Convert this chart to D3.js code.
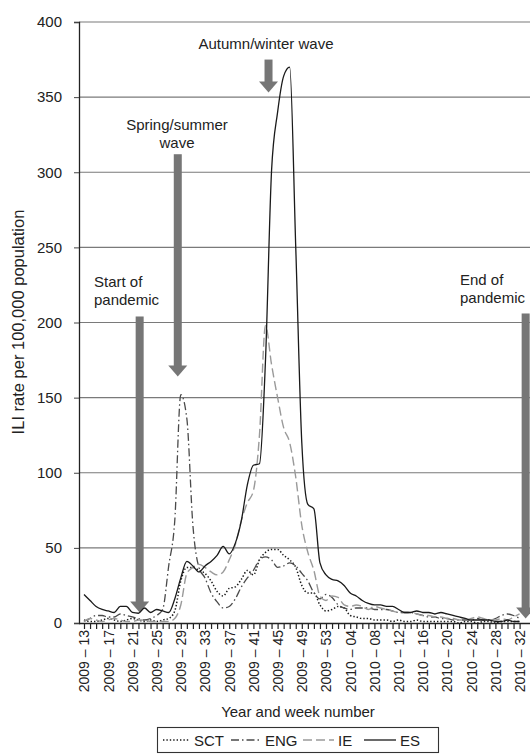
<!DOCTYPE html>
<html>
<head>
<meta charset="utf-8">
<script src="https://cdn.jsdelivr.net/npm/d3@7"></script>
<style>
  body { margin: 0; background: #fff; }
  svg { display: block; font-family: "Liberation Sans", Arial, sans-serif; }
</style>
</head>
<body>
<svg id="chart" width="530" height="756"></svg>
<script>
// weeks 2009-13 .. 2010-32
var weeks = [];
for (var w = 13; w <= 53; w++) weeks.push("2009 \u2013 " + (w < 10 ? "0" + w : w));
for (var w = 1; w <= 32; w++) weeks.push("2010 \u2013 " + (w < 10 ? "0" + w : w));

var yTicks = [0, 50, 100, 150, 200, 250, 300, 350, 400];

var sct = [2, 1, 1, 2, 3, 2, 1, 2, 3, 2, 1, 2, 1, 2, 3, 8, 28, 37, 37, 35,
           33, 28, 21, 18, 23, 24, 29, 35, 32, 42, 47, 49, 49, 45, 42, 37, 25, 20, 20, 12,
           8, 9, 11, 10, 5, 4, 3, 3, 2, 2, 2, 1, 2, 1, 1, 2, 1, 1, 1, 1,
           1, 1, 0, 1, 1, 0, 1, 1, 0, 1, 1, 1, 1];
var eng = [1, 3, 5, 5, 4, 4, 6, 5, 4, 3, 2, 3, 5, 9, 38, 68, 152, 136, 65, 37,
           30, 20, 14, 10, 11, 16, 24, 30, 35, 42, 44, 42, 37, 38, 40, 38, 33, 28, 20, 16,
           19, 17, 12, 10, 9, 10, 10, 10, 9, 9, 9, 8, 7, 7, 7, 6, 5, 4, 4, 3,
           3, 2, 2, 2, 2, 3, 2, 2, 3, 5, 6, 5, 3];
var ie = [1, 3, 2, 1, 2, 3, 2, 1, 1, 2, 2, 1, 1, 1, 1, 3, 12, 33, 37, 39,
          37, 34, 32, 34, 42, 52, 68, 80, 88, 125, 198, 172, 150, 130, 120, 97, 65, 47, 35, 18,
          15, 18, 17, 12, 11, 12, 11, 9, 11, 10, 9, 8, 7, 7, 7, 6, 5, 5, 4, 4,
          3, 3, 2, 2, 3, 4, 3, 2, 2, 3, 2, 4, 6];
var es = [19, 15, 11, 9, 8, 7, 11, 11, 7, 6.5, 10, 7, 9, 8, 7, 16, 30, 41, 38, 34,
          38, 41, 45, 51, 46, 53, 68, 92, 105, 106, 175, 301, 340, 364, 370, 250, 120, 79, 76, 40,
          32, 29, 28, 25, 20, 18, 15, 13, 12, 12, 11, 11, 9, 7, 7, 8, 7, 7, 6, 7,
          6, 5, 4, 3, 2, 2, 2, 2, 1, 1, 2, 1, 1];

var seriesNames = ["SCT", "ENG", "IE", "ES"];
var seriesData = [sct, eng, ie, es];
var seriesCol = ["#1a1a1a", "#4a4a4a", "#9a9a9a", "#1a1a1a"];
var seriesDash = ["1.4,2", "8,3,1.5,3", "9,4", null];
var seriesWidth = [1.5, 1.3, 1.4, 1.3];

// annotation arrows: week index, top and tip in data units
var notes = [
  { lines: ["Start of", "pandemic"], week: 9.2, top: 204, tip: 7, tx: 94, ty: 282, anchor: "start" },
  { lines: ["Spring/summer", "wave"], week: 15.5, top: 312, tip: 164, tx: 177, ty: 125, anchor: "middle" },
  { lines: ["Autumn/winter wave"], week: 30.5, top: 375, tip: 353, tx: 266, ty: 44, anchor: "middle" },
  { lines: ["End of", "pandemic"], week: 73, top: 206, tip: 3, tx: 460, ty: 280, anchor: "start" }
];

function drawChart() {
    var svg = d3.select("#chart");
    var mLeft = 79, mTop = 22, mBottom = 623, mRight = 530;
    var fs = "15px";

    var x = d3.scaleLinear().domain([0, weeks.length - 1]).range([84, 519.6]);
    var y = d3.scaleLinear().domain([0, 400]).range([mBottom, mTop]);

    // gridlines
    svg.append("g")
        .selectAll("line")
        .data(yTicks.filter(d => d > 0))
        .enter().append("line")
        .attr("x1", mLeft).attr("x2", mRight)
        .attr("y1", d => y(d)).attr("y2", d => y(d))
        .style("stroke", "#7a7a7a")
        .style("stroke-width", 1.1);

    // y axis
    var yAxis = d3.axisLeft(y).tickValues(yTicks).tickSize(5).tickPadding(12);
    var gy = svg.append("g")
        .attr("transform", "translate(" + mLeft + ",0)")
        .call(yAxis);
    gy.select(".domain").style("stroke", "#222").style("stroke-width", 1.3);
    gy.selectAll(".tick line").style("stroke", "#444");
    gy.selectAll("text")
        .style("font-size", fs)
        .style("fill", "#222")
        .style("font-family", "Liberation Sans, Arial, sans-serif");

    // x axis: tick every week, label every 4 weeks
    var xAxis = d3.axisBottom(x)
        .tickValues(d3.range(weeks.length))
        .tickSize(6)
        .tickFormat(d => d % 4 == 0 ? weeks[d] : "");
    var gx = svg.append("g")
        .attr("transform", "translate(0," + mBottom + ")")
        .call(xAxis);
    gx.select(".domain").attr("d", "M" + mLeft + ",0.5H" + mRight).style("stroke", "#222").style("stroke-width", 1.6);
    gx.selectAll(".tick line").style("stroke", "#222").style("stroke-width", 1.2);
    gx.selectAll("text")
        .attr("transform", "rotate(-90)")
        .attr("x", -7)
        .attr("y", 0)
        .attr("dy", "0.35em")
        .style("text-anchor", "end")
        .style("font-size", "14px")
        .style("fill", "#222")
        .style("font-family", "Liberation Sans, Arial, sans-serif");

    // axis titles
    svg.append("text")
        .attr("x", 298).attr("y", 717)
        .attr("text-anchor", "middle")
        .style("font-size", fs).style("fill", "#222")
        .text("Year and week number");

    svg.append("text")
        .attr("transform", "rotate(-90)")
        .attr("x", -322).attr("y", 24)
        .attr("text-anchor", "middle")
        .style("font-size", "16.5px").style("fill", "#222")
        .text("ILI rate per 100,000 population");

    // arrows
    var arrowCol = "#767676";
    notes.forEach(function(n) {
        var ax = x(n.week), yTop = y(n.top), yTip = y(n.tip);
        var headLen = Math.min(11, (yTip - yTop) * 0.4);
        svg.append("rect")
            .attr("x", ax - 4).attr("y", yTop)
            .attr("width", 8).attr("height", yTip - yTop - headLen + 1)
            .style("fill", arrowCol);
        svg.append("path")
            .attr("d", "M" + (ax - 9.5) + "," + (yTip - headLen) + "L" + (ax + 9.5) + "," + (yTip - headLen) + "L" + ax + "," + yTip + "Z")
            .style("fill", arrowCol);
        var t = svg.append("text")
            .attr("x", n.tx).attr("y", n.ty + 5)
            .attr("text-anchor", n.anchor)
            .style("font-size", fs).style("fill", "#222");
        n.lines.forEach(function(s, i) {
            t.append("tspan").attr("x", n.tx).attr("dy", i == 0 ? 0 : 18).text(s);
        });
    });

    // series lines
    var line = d3.line()
        .x((d, i) => x(i))
        .y(d => y(d))
        .curve(d3.curveMonotoneX);

    seriesData.forEach(function(s, k) {
        svg.append("path")
            .datum(s)
            .attr("d", line)
            .style("fill", "none")
            .style("stroke", seriesCol[k])
            .style("stroke-width", seriesWidth[k])
            .style("stroke-dasharray", seriesDash[k]);
    });

    // legend
    var lg = svg.append("g");
    lg.append("rect")
        .attr("x", 157.5).attr("y", 727.5).attr("width", 281).attr("height", 25)
        .style("fill", "none").style("stroke", "#333").style("stroke-width", 1.1);
    var legX = [163, 231, 303, 364];
    var legLen = [27, 30, 31, 32];
    seriesNames.forEach(function(name, k) {
        lg.append("line")
            .attr("x1", legX[k]).attr("x2", legX[k] + legLen[k])
            .attr("y1", 740).attr("y2", 740)
            .style("stroke", seriesCol[k])
            .style("stroke-width", seriesWidth[k])
            .style("stroke-dasharray", seriesDash[k]);
        lg.append("text")
            .attr("x", legX[k] + legLen[k] + 4).attr("y", 745.5)
            .style("font-size", fs).style("fill", "#222")
            .text(name);
    });
}

drawChart();
</script>
</body>
</html>
